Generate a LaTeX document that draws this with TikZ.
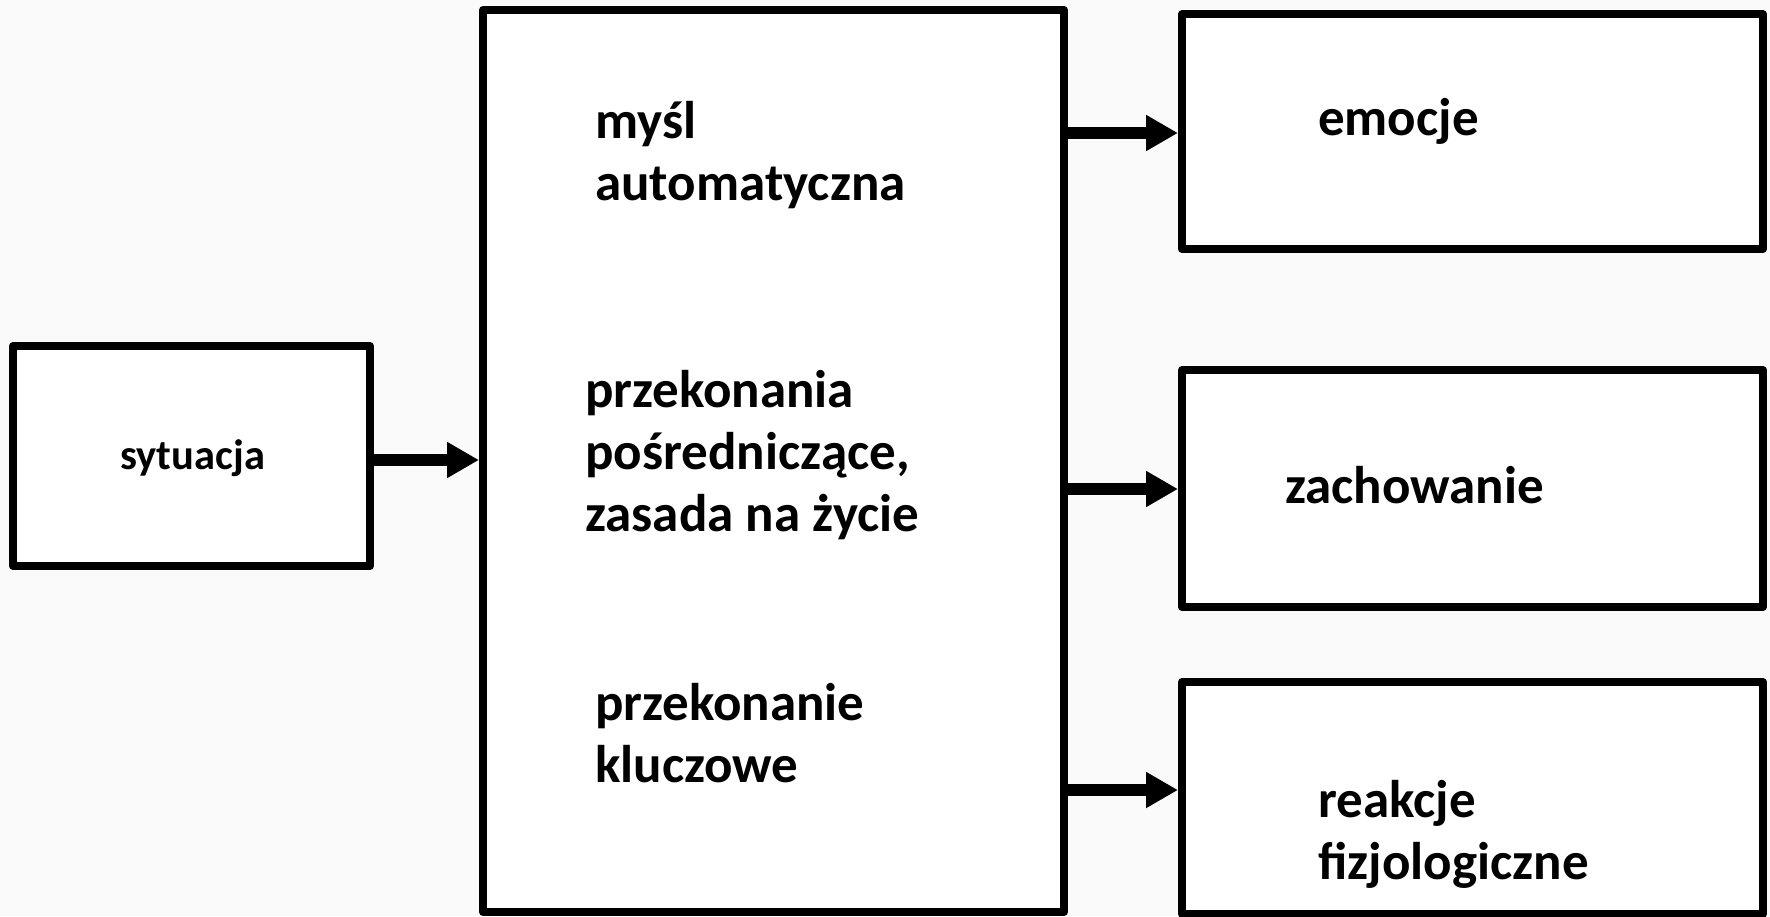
\documentclass[tikz,border=0pt]{standalone}
\usepackage{fontspec}
\setmainfont{Carlito}
\usetikzlibrary{arrows.meta}
\definecolor{paper}{RGB}{250,250,250}
\begin{document}
\begin{tikzpicture}[x=1pt,y=-1pt,
  box/.style={draw=black,line width=8pt,fill=white,rectangle,inner sep=0pt,line join=round},
  arr/.style={line width=12pt,-{Triangle[length=32pt,width=34pt]}},
  lbl/.style={font=\bfseries\fontsize{53}{62}\selectfont,align=left,anchor=base west,inner sep=0pt},
  small/.style={font=\bfseries\fontsize{42.5}{50}\selectfont,anchor=base west,inner sep=0pt}]
  % page
  \fill[paper] (0,0) rectangle (1770,916);
  \useasboundingbox (0,0) rectangle (1770,916);
  % boxes
  \node[box,minimum width=357pt,minimum height=220pt] (sit) at (191.5,456) {};
  \node[box,minimum width=581pt,minimum height=902pt] (mid) at (773.5,461) {};
  \node[box,minimum width=581pt,minimum height=235pt] (emo) at (1472.5,131.5) {};
  \node[box,minimum width=581pt,minimum height=237pt] (zach) at (1472.5,488.5) {};
  \node[box,minimum width=581pt,minimum height=232pt] (reak) at (1472.5,798) {};
  % texts (base anchor sits on the last line)
  \node[small] (tsit) at (120,469) {sytuacja};
  \node[lbl] (tmysl) at (595,200) {myśl\\automatyczna};
  \node[lbl] (tpos) at (585,531) {przekonania\\pośredniczące,\\zasada na życie};
  \node[lbl] (tklu) at (595,782) {przekonanie\\kluczowe};
  \node[lbl] (temo) at (1318,135) {emocje};
  \node[lbl] (tzach) at (1285,503) {zachowanie};
  \node[lbl] (treak) at (1318,879) {reakcje\\fizjologiczne};
  % connectors
  \draw[arr] (sit.east |- 0,460) -- (mid.west |- 0,460);
  \draw[arr] (mid.east |- 0,133) -- (emo.west |- 0,133);
  \draw[arr] (mid.east |- 0,489) -- (zach.west |- 0,489);
  \draw[arr] (mid.east |- 0,790) -- (reak.west |- 0,790);
\end{tikzpicture}
\end{document}
